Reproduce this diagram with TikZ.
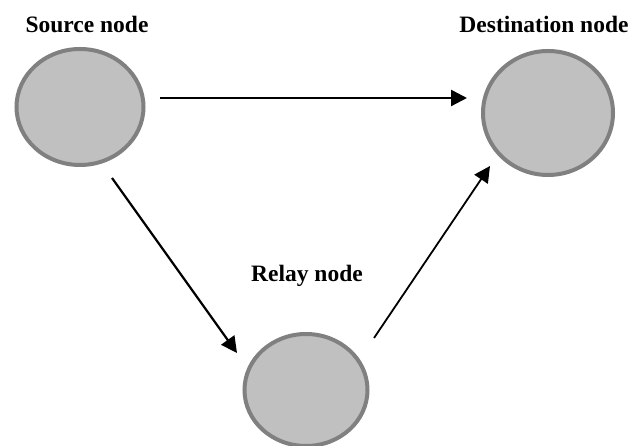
\documentclass[tikz,border=0pt]{standalone}
\usepackage{fontspec}
\setmainfont{Liberation Serif}
\usetikzlibrary{arrows.meta,shapes.geometric}
\definecolor{nodefill}{RGB}{192,192,192}
\definecolor{nodeedge}{RGB}{128,128,128}
\tikzset{
  netnode/.style={ellipse, draw=nodeedge, fill=nodefill, line width=4pt, inner sep=0pt},
  lbl/.style={font=\fontsize{23.5}{28}\selectfont\bfseries, text=black, inner sep=0pt},
  arr/.style={-{Triangle[length=16pt,width=16pt]}, line width=2.4pt, black}
}
\begin{document}
\begin{tikzpicture}[x=1pt,y=1pt]
\useasboundingbox (0,0) rectangle (632,446);
\node[netnode, minimum width=127pt, minimum height=116pt] (src) at (80,339) {};
\node[netnode, minimum width=130pt, minimum height=124pt] (dst) at (548,333) {};
\node[netnode, minimum width=123pt, minimum height=112pt] (rel) at (306,56) {};
\node[lbl] (srcl) at (87,422) {Source node};
\node[lbl] (dstl) at (544,422) {Destination node};
\node[lbl] (rell) at (307,170) {Relay node};
\draw[arr] ([xshift=80pt,yshift=9pt]src.center) -- ([xshift=-81pt,yshift=15pt]dst.center);
\draw[arr, line width=2.2pt] ([xshift=32pt,yshift=-71pt]src.center) -- ([xshift=-69pt,yshift=37pt]rel.center);
\draw[arr, line width=1.8pt] ([xshift=68pt,yshift=52pt]rel.center) -- ([xshift=-58pt,yshift=-53pt]dst.center);
\end{tikzpicture}
\end{document}
